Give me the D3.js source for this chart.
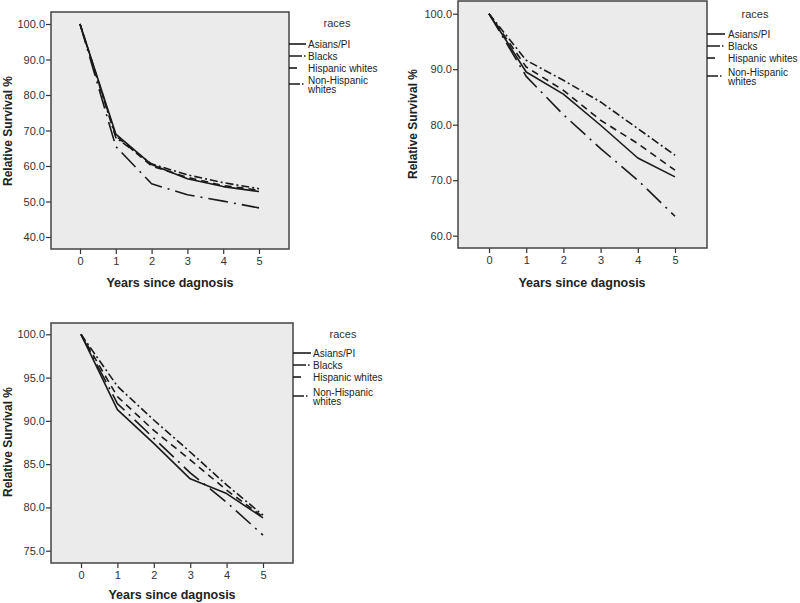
<!DOCTYPE html>
<html><head><meta charset="utf-8">
<script src="https://cdn.jsdelivr.net/npm/d3@7"></script>
<style>body{margin:0;background:#fff}svg{display:block}</style>
</head><body>
<svg id="c" width="800" height="603"></svg>
<script>
const years = [0, 1, 2, 3, 4, 5];
const races = ["Asians/PI", "Blacks", "Hispanic whites", "Non-Hispanic whites"];

// Panel A values (Asians/PI, Blacks, Hispanic whites, Non-Hispanic whites)
const panelA_asians = [100, 69.0, 60.4, 56.4, 54.2, 52.8];
const panelA_blacks = [100, 65.5, 55.0, 51.9, 50.1, 48.2];
const panelA_hispanic = [100, 68.5, 60.0, 56.8, 54.5, 53.2];
const panelA_nonhispanic = [100, 68.0, 60.6, 57.5, 55.3, 53.6];
const panelA_ticks = [40, 50, 60, 70, 80, 90, 100];

const panelB_asians = [100, 89.5, 85.5, 79.9, 74.0, 70.6];
const panelB_blacks = [100, 88.7, 81.8, 75.7, 70.0, 63.5];
const panelB_hispanic = [100, 90.4, 86.2, 80.8, 76.6, 71.8];
const panelB_nonhispanic = [100, 91.6, 88.0, 84.1, 79.3, 74.5];
const panelB_ticks = [60, 70, 80, 90, 100];

const panelC_asians = [100, 91.3, 87.4, 83.3, 81.6, 78.8];
const panelC_blacks = [100, 92.0, 88.0, 84.0, 80.6, 76.8];
const panelC_hispanic = [100, 92.8, 88.9, 85.5, 82.0, 78.9];
const panelC_nonhispanic = [100, 94.0, 90.1, 86.4, 82.6, 79.1];
const panelC_ticks = [75, 80, 85, 90, 95, 100];

const xTitle = "Years since dagnosis";
const yTitle = "Relative Survival %";
const legendTitle = "races";

const dashes = ["none", "20,6,2,6", "7,5", "8,3,2,3"];
const legendDashes = ["none", "13,2,1.5,20", "8,30", "11,2,1.5,20"];

const panels = [
  { series: [panelA_asians, panelA_blacks, panelA_hispanic, panelA_nonhispanic], ticks: panelA_ticks,
    frame: [51, 12, 289, 249], xr: [80, 259], yk: [[100, 24], [40, 237]],
    ytx: 6, yty: 131, xtx: 170, xty: 287,
    leg: { title: [337, 27], rows: [44, 56, 68, 80], tx: 308, ln: 17 } },
  { series: [panelB_asians, panelB_blacks, panelB_hispanic, panelB_nonhispanic], ticks: panelB_ticks,
    frame: [458, 1, 707, 248], xr: [489, 675], yk: [[100, 13.7], [60, 235.7]],
    ytx: 411, yty: 124, xtx: 582, xty: 287,
    leg: { title: [755, 18], rows: [34, 46, 58, 72], tx: 728, ln: 18 } },
  { series: [panelC_asians, panelC_blacks, panelC_hispanic, panelC_nonhispanic], ticks: panelC_ticks,
    frame: [51, 323, 293, 563], xr: [81, 263], yk: [[100, 334.3], [75, 550.7]],
    ytx: 6, yty: 442, xtx: 172, xty: 599,
    leg: { title: [343, 338], rows: [353, 365, 377, 392], tx: 313, ln: 18 } }
];

const svg = d3.select("#c");
const font = "'Liberation Sans', Arial, sans-serif";

panels.forEach(p => {
  const [l, t, r, b] = p.frame;
  const x = d3.scaleLinear().domain([0, 5]).range(p.xr);
  const y = d3.scaleLinear().domain([p.yk[0][0], p.yk[1][0]]).range([p.yk[0][1], p.yk[1][1]]);
  const g = svg.append("g");

  g.append("rect").attr("x", l).attr("y", t).attr("width", r - l).attr("height", b - t)
    .attr("fill", "#ebebeb");

  const ya = g.append("g").attr("transform", `translate(${l},0)`)
    .call(d3.axisLeft(y).tickValues(p.ticks).tickSize(5).tickPadding(1).tickFormat(d3.format(".1f")));
  ya.select(".domain").remove();
  ya.selectAll("line").attr("stroke", "#333").attr("stroke-width", 1.2);
  ya.selectAll("text").attr("font-family", font).attr("font-size", 11).attr("fill", "#333");

  const xa = g.append("g").attr("transform", `translate(0,${b})`)
    .call(d3.axisBottom(x).tickValues(years).tickSize(5).tickPadding(3).tickFormat(d3.format("d")));
  xa.select(".domain").remove();
  xa.selectAll("line").attr("stroke", "#333").attr("stroke-width", 1.2);
  xa.selectAll("text").attr("font-family", font).attr("font-size", 11).attr("fill", "#333");

  const line = d3.line().x((d, i) => x(years[i])).y(d => y(d));
  p.series.forEach((s, k) => {
    g.append("path").datum(s).attr("d", line).attr("fill", "none")
      .attr("stroke", "#1a1a1a").attr("stroke-width", 1.6)
      .attr("stroke-dasharray", dashes[k]).attr("stroke-linejoin", "round");
  });

  g.append("rect").attr("x", l).attr("y", t).attr("width", r - l).attr("height", b - t)
    .attr("fill", "none").attr("stroke", "#444").attr("stroke-width", 1.5);

  g.append("text").attr("transform", `translate(${p.ytx + 6},${p.yty}) rotate(-90)`)
    .attr("text-anchor", "middle").attr("font-family", font).attr("font-weight", "bold")
    .attr("font-size", 12).attr("fill", "#222").text(yTitle);
  g.append("text").attr("x", p.xtx).attr("y", p.xty).attr("text-anchor", "middle")
    .attr("font-family", font).attr("font-weight", "bold").attr("font-size", 12.5)
    .attr("fill", "#222").text(xTitle);

  // legend
  g.append("text").attr("x", p.leg.title[0]).attr("y", p.leg.title[1]).attr("text-anchor", "middle")
    .attr("font-family", font).attr("font-size", 11).attr("fill", "#333").text(legendTitle);
  races.forEach((name, k) => {
    const cy = p.leg.rows[k];
    const ly = k === 3 ? cy + 4 : cy;
    g.append("line").attr("x1", r).attr("x2", r + p.leg.ln).attr("y1", ly).attr("y2", ly)
      .attr("stroke", "#1a1a1a").attr("stroke-width", 1.6).attr("stroke-dasharray", legendDashes[k]);
    if (k === 3) {
      const tx = g.append("text").attr("x", p.leg.tx).attr("y", cy + 3.5)
        .attr("font-family", font).attr("font-size", 10).attr("fill", "#222");
      tx.append("tspan").attr("x", p.leg.tx).text("Non-Hispanic");
      tx.append("tspan").attr("x", p.leg.tx).attr("dy", 9.5).text("whites");
    } else {
      g.append("text").attr("x", p.leg.tx).attr("y", cy + 3.5)
        .attr("font-family", font).attr("font-size", 10).attr("fill", "#222").text(name);
    }
  });
});
</script>
</body></html>
